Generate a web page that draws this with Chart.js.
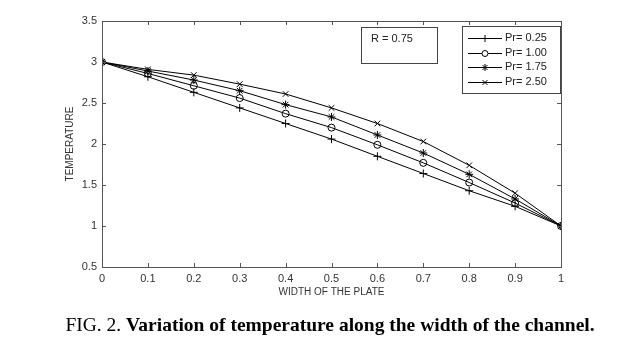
<!DOCTYPE html>
<html>
<head>
<meta charset="utf-8">
<script src="https://cdn.jsdelivr.net/npm/chart.js@4"></script>
<style>
  body { margin: 0; background: #fff; }
  #wrap { position: relative; width: 618px; height: 343px; overflow: hidden; }
  #caption {
    position: absolute; left: 21px; width: 618px; top: 314px;
    text-align: center; font-family: "Liberation Serif", "Times New Roman", serif;
    font-size: 19.5px; color: #000; line-height: 22px; white-space: nowrap;
  }
</style>
</head>
<body>
<div id="wrap">
  <canvas id="temp-chart" width="618" height="343"></canvas>
  <div id="caption">FIG. 2. <b>Variation of temperature along the width of the channel.</b></div>
</div>
<script>
let tempCanvas = document.getElementById("temp-chart");

// chart data
const widths = [0, 0.1, 0.2, 0.3, 0.4, 0.5, 0.6, 0.7, 0.8, 0.9, 1];
const pr025 = [3, 2.82, 2.63, 2.44, 2.25, 2.06, 1.85, 1.64, 1.43, 1.24, 1];
const pr100 = [3, 2.86, 2.71, 2.56, 2.37, 2.20, 1.99, 1.77, 1.53, 1.28, 1];
const pr175 = [3, 2.89, 2.78, 2.65, 2.48, 2.33, 2.11, 1.89, 1.63, 1.33, 1];
const pr250 = [3, 2.91, 2.84, 2.73, 2.61, 2.44, 2.25, 2.03, 1.74, 1.40, 1];
const seriesLabels = ["Pr= 0.25", "Pr= 1.00", "Pr= 1.75", "Pr= 2.50"];
const markers = ["cross", "circle", "star", "crossRot"];
const xTicks = [0, 0.1, 0.2, 0.3, 0.4, 0.5, 0.6, 0.7, 0.8, 0.9, 1];
const yTicks = [0.5, 1, 1.5, 2, 2.5, 3, 3.5];
const noteText = "R = 0.75";

const tickFont = { family: "'Liberation Sans', Arial, sans-serif", size: 11 };
const axisGray = "#555";

function makeSet(label, values, marker) {
    return {
        label: label,
        data: values.map((v, i) => ({ x: widths[i], y: v })),
        borderColor: "#000",
        borderWidth: 1,
        pointStyle: marker,
        pointRadius: marker === "circle" ? 3.5 : 4,
        pointBorderColor: "#000",
        pointBackgroundColor: "transparent",
        pointBorderWidth: 1,
        tension: 0,
        fill: false
    };
}

let tempData = {
    datasets: [
        makeSet(seriesLabels[0], pr025, markers[0]),
        makeSet(seriesLabels[1], pr100, markers[1]),
        makeSet(seriesLabels[2], pr175, markers[2]),
        makeSet(seriesLabels[3], pr250, markers[3])
    ]
};

// frame, inward ticks, note box and legend box
const framePlugin = {
    id: "frame",
    afterDraw(chart) {
        const ctx = chart.ctx;
        const a = chart.chartArea;
        const xs = chart.scales.x, ys = chart.scales.y;
        ctx.save();
        ctx.strokeStyle = axisGray;
        ctx.lineWidth = 1;
        ctx.strokeRect(a.left + 0.5, a.top + 0.5, a.right - a.left, a.bottom - a.top);
        ctx.beginPath();
        xTicks.forEach(t => {
            const px = Math.round(xs.getPixelForValue(t)) + 0.5;
            ctx.moveTo(px, a.bottom); ctx.lineTo(px, a.bottom - 4);
            ctx.moveTo(px, a.top); ctx.lineTo(px, a.top + 4);
        });
        yTicks.forEach(t => {
            const py = Math.round(ys.getPixelForValue(t)) + 0.5;
            ctx.moveTo(a.left, py); ctx.lineTo(a.left + 4, py);
            ctx.moveTo(a.right, py); ctx.lineTo(a.right - 4, py);
        });
        ctx.stroke();

        // R note
        ctx.fillStyle = "#fff";
        ctx.fillRect(361, 27, 76, 36);
        ctx.strokeStyle = "#444";
        ctx.strokeRect(361.5, 27.5, 76, 36);
        ctx.fillStyle = "#222";
        ctx.font = "11px 'Liberation Sans', Arial, sans-serif";
        ctx.textBaseline = "middle";
        ctx.fillText(noteText, 371, 39);

        // legend
        ctx.fillStyle = "#fff";
        ctx.fillRect(462, 26, 98, 67);
        ctx.strokeRect(462.5, 26.5, 98, 67);
        chart.data.datasets.forEach((ds, i) => {
            const y = 38 + i * 14.7;
            ctx.strokeStyle = "#000";
            ctx.beginPath();
            ctx.moveTo(468, Math.round(y) + 0.5);
            ctx.lineTo(502, Math.round(y) + 0.5);
            ctx.stroke();
            ctx.fillStyle = "#fff";
            Chart.helpers.drawPoint(ctx, {
                pointStyle: ds.pointStyle,
                radius: ds.pointStyle === "circle" ? 3 : 3.5,
                borderWidth: 1
            }, 485, Math.round(y) + 0.5);
            ctx.fillStyle = "#222";
            ctx.font = "11px 'Liberation Sans', Arial, sans-serif";
            ctx.fillText(ds.label, 505, y);
        });
        ctx.restore();
    }
};

let tempOptions = {
    responsive: false,
    animation: false,
    layout: {
        padding: { left: 60, right: 57, top: 21, bottom: 43 }
    },
    elements: {
        point: { hoverRadius: 4 }
    },
    scales: {
        x: {
            type: "linear",
            min: 0,
            max: 1,
            afterFit: s => { s.height = 33; },
            afterBuildTicks: s => { s.ticks = xTicks.map(v => ({ value: v })); },
            grid: { display: false, drawTicks: false },
            border: { display: false },
            ticks: {
                font: tickFont, color: "#333", padding: 5, maxRotation: 0, autoSkip: false,
                callback: v => String(v)
            },
            title: {
                display: true,
                text: "WIDTH OF THE PLATE",
                font: { family: "'Liberation Sans', Arial, sans-serif", size: 10 },
                color: "#333",
                padding: { top: 0, bottom: 2 }
            }
        },
        y: {
            min: 0.5,
            max: 3.5,
            afterFit: s => { s.width = 42; },
            afterBuildTicks: s => { s.ticks = yTicks.map(v => ({ value: v })); },
            grid: { display: false, drawTicks: false },
            border: { display: false },
            ticks: {
                font: tickFont, color: "#333", padding: 5, autoSkip: false,
                callback: v => String(v)
            },
            title: {
                display: true,
                text: "TEMPERATURE",
                font: { family: "'Liberation Sans', Arial, sans-serif", size: 10 },
                color: "#333",
                padding: { top: 4, bottom: 0 }
            }
        }
    },
    plugins: {
        legend: { display: false },
        tooltip: { enabled: false }
    }
};

let tempChart = new Chart(tempCanvas, {
    type: "line",
    data: tempData,
    options: tempOptions,
    plugins: [framePlugin]
});
</script>
</body>
</html>
